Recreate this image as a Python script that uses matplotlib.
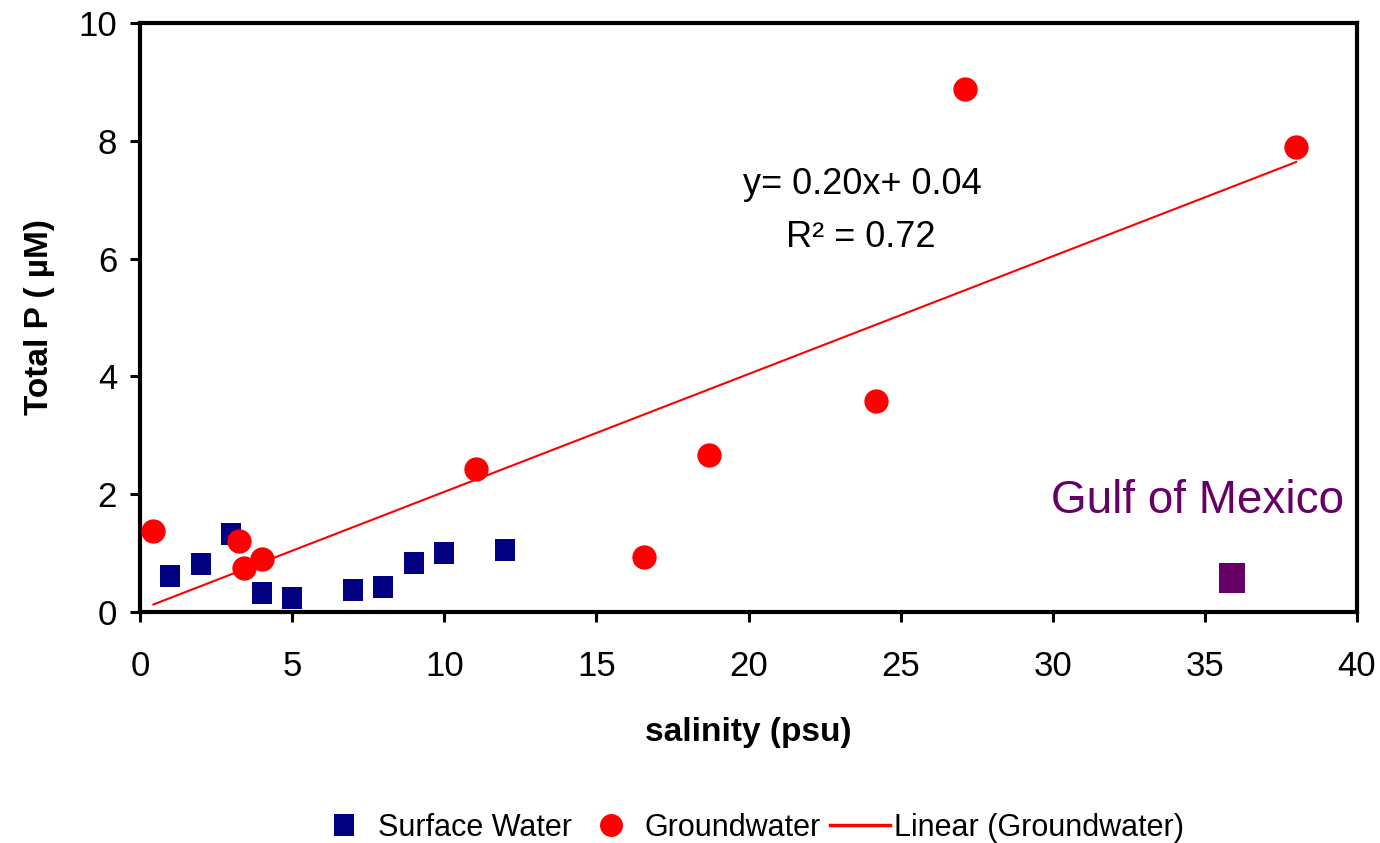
import matplotlib
matplotlib.use('Agg')
import matplotlib.pyplot as plt
from matplotlib.lines import Line2D

plt.rcParams['font.family'] = ['Liberation Sans', 'DejaVu Sans']

# ---- data ----
surface_salinity = [1, 2, 3, 4, 5, 7, 8, 9, 10, 12]
surface_tp = [0.61, 0.81, 1.32, 0.33, 0.23, 0.38, 0.42, 0.84, 1.00, 1.05]

ground_salinity = [0.44, 3.27, 3.42, 4.02, 11.05, 16.55, 18.7, 24.2, 27.1, 38.0]
ground_tp = [1.38, 1.20, 0.75, 0.90, 2.43, 0.93, 2.67, 3.58, 8.88, 7.89]

gulf_salinity = [35.9]
gulf_tp = [0.57]

fit_slope = 0.20
fit_intercept = 0.04

x_ticks = [0, 5, 10, 15, 20, 25, 30, 35, 40]
y_ticks = [0, 2, 4, 6, 8, 10]

NAVY = '#000080'
RED = '#FF0000'
PURPLE = '#660066'

# slightly tall rectangle marker (the reference squares are a bit stretched vertically)
tall_sq = [(-0.43, -0.5), (0.43, -0.5), (0.43, 0.5), (-0.43, 0.5), (-0.43, -0.5)]

fig = plt.figure(figsize=(13.8, 8.43), dpi=100)
ax = fig.add_axes([140 / 1380, 1 - 612 / 843, (1357 - 140) / 1380, (612 - 23) / 843])

ax.plot(surface_salinity, surface_tp, linestyle='none', marker=tall_sq, ms=16.5,
        color=NAVY, mec=NAVY, mew=0, zorder=3)
ax.plot(ground_salinity, ground_tp, linestyle='none', marker='o', ms=16.5,
        color=RED, mec=RED, zorder=4)
fx = [min(ground_salinity), max(ground_salinity)]
fy = [fit_slope * v + fit_intercept for v in fx]
ax.plot(fx, fy, color=RED, lw=1.5, zorder=5)
ax.plot(gulf_salinity, gulf_tp, linestyle='none', marker=tall_sq, ms=21,
        color=PURPLE, mec=PURPLE, mew=0, zorder=3)

ax.text(23.75, 7.25, 'y= 0.20x+ 0.04', fontsize=26, ha='center', va='center')
ax.text(23.7, 6.35, 'R\u00b2 = 0.72', fontsize=26, ha='center', va='center')
ax.text(34.75, 1.88, 'Gulf of Mexico', fontsize=33, color=PURPLE,
        ha='center', va='center')

ax.set_xlim(0, 40)
ax.set_ylim(0, 10)
ax.set_xticks(x_ticks)
ax.set_yticks(y_ticks)
ax.tick_params(axis='both', direction='out', length=7.5, width=2.2,
               labelsize=25, color='black')
ax.tick_params(axis='x', pad=20)
ax.tick_params(axis='y', pad=9)
for sp in ax.spines.values():
    sp.set_linewidth(3)
    sp.set_color('black')

ax.set_xlabel('salinity (psu)', fontsize=24, fontweight='bold')
ax.xaxis.set_label_coords(0.5, -0.178)
ax.set_ylabel('Total P ( \u00b5M)', fontsize=24, fontweight='bold')
ax.yaxis.set_label_coords(-0.07, 0.5)

handles = [
    Line2D([], [], linestyle='none', marker=tall_sq, ms=16, color=NAVY, mew=0),
    Line2D([], [], linestyle='none', marker='o', ms=15.5, color=RED),
    Line2D([], [], color=RED, lw=2.5),
]
labels = ['Surface Water', 'Groundwater', 'Linear (Groundwater)']
fig.legend(handles, labels, loc='center', bbox_to_anchor=(749 / 1380, 1 - 828 / 843),
           ncol=3, frameon=False, fontsize=22, handlelength=1.96,
           handletextpad=0.13, columnspacing=0.3, borderpad=0, borderaxespad=0)

fig.savefig('out.png', dpi=100)
